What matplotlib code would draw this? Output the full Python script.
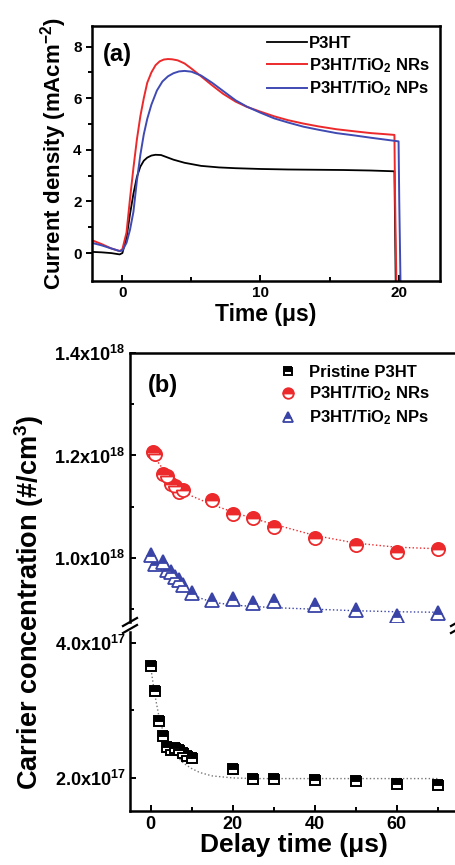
import matplotlib
matplotlib.use("Agg")
import matplotlib.pyplot as plt

plt.rcParams["font.family"] = ["Liberation Sans", "DejaVu Sans"]
plt.rcParams["font.weight"] = "bold"
plt.rcParams["axes.labelweight"] = "bold"
plt.rcParams["mathtext.fontset"] = "custom"
plt.rcParams["mathtext.rm"] = "Liberation Sans:bold"
plt.rcParams["mathtext.it"] = "Liberation Sans:bold"
plt.rcParams["mathtext.bf"] = "Liberation Sans:bold"

RED = "#ec2a2c"
BLUE = "#3f4ab3"
MBLUE = "#3a44a6"

# ── (a) transient photocurrent ───────────────────────────────────────────────
t_p3ht = [-2.3, -1.5, -0.8, -0.2, 0.0, 0.3, 0.55, 0.8, 1.05, 1.3, 1.55, 1.8, 2.1,
          2.4, 2.8, 3.2, 3.7, 4.5, 5.7, 7.0, 8.2, 10, 12, 14, 16, 18, 19.7, 19.8]
j_p3ht = [0.05, 0.03, 0.0, -0.05, 0.0, 0.6, 1.5, 2.3, 2.95, 3.35, 3.58, 3.7, 3.78,
          3.81, 3.8, 3.72, 3.62, 3.5, 3.38, 3.32, 3.29, 3.26, 3.24, 3.23, 3.22, 3.2,
          3.17, -1.5]

t_nrs = [-2.3, -1.5, -0.8, -0.2, 0.0, 0.3, 0.55, 0.8, 1.05, 1.3, 1.55, 1.8, 2.1,
         2.4, 2.7, 3.0, 3.3, 3.6, 4.0, 4.5, 5.0, 5.7, 6.5, 7.3, 8.2, 9.0, 10.0,
         11.0, 12.0, 13.1, 14.2, 15.5, 16.8, 18.0, 19.0, 19.7, 19.75, 19.85]
j_nrs = [0.52, 0.35, 0.18, 0.08, 0.15, 0.8, 2.1, 3.3, 4.4, 5.3, 6.0, 6.6, 7.0,
         7.28, 7.43, 7.5, 7.52, 7.51, 7.47, 7.35, 7.15, 6.85, 6.5, 6.17, 5.87,
         5.67, 5.48, 5.3, 5.15, 5.02, 4.91, 4.8, 4.72, 4.65, 4.61, 4.58, 2.0, -1.5]

t_nps = [-2.3, -1.5, -0.8, -0.2, 0.0, 0.3, 0.55, 0.8, 1.05, 1.3, 1.55, 1.8, 2.1,
         2.5, 2.9, 3.3, 3.7, 4.1, 4.5, 5.0, 5.7, 6.5, 7.3, 8.2, 9.0, 10.0, 11.0,
         12.0, 13.1, 14.2, 15.5, 16.8, 18.0, 19.0, 20.0, 20.05, 20.15]
j_nps = [0.41, 0.3, 0.18, 0.08, 0.1, 0.4, 0.9, 1.6, 2.8, 3.8, 4.6, 5.2, 5.75,
         6.3, 6.65, 6.85, 6.97, 7.04, 7.06, 7.03, 6.88, 6.6, 6.28, 5.92, 5.68,
         5.44, 5.22, 5.06, 4.9, 4.78, 4.65, 4.56, 4.47, 4.4, 4.33, 2.0, -1.5]

# ── (b) carrier concentration vs delay time ─────────────────────────────────
d_p3ht = [0, 1, 2, 3, 4, 5, 6, 7, 8, 9, 10, 20, 25, 30, 40, 50, 60, 70]
n_p3ht = [3.66e17, 3.28e17, 2.84e17, 2.62e17, 2.46e17, 2.41e17, 2.44e17, 2.41e17,
          2.37e17, 2.32e17, 2.29e17, 2.13e17, 1.98e17, 1.99e17, 1.97e17, 1.95e17,
          1.91e17, 1.89e17]

d_nrs = [0.5, 1, 3, 4, 5, 6, 7, 8, 15, 20, 25, 30, 40, 50, 60, 70]
n_nrs = [1.207e18, 1.202e18, 1.163e18, 1.160e18, 1.144e18, 1.140e18, 1.128e18,
         1.132e18, 1.113e18, 1.086e18, 1.077e18, 1.061e18, 1.039e18, 1.025e18,
         1.012e18, 1.018e18]

d_nps = [0, 1, 3, 4, 5, 6, 7, 8, 10, 15, 20, 25, 30, 40, 50, 60, 70]
n_nps = [1.005e18, 0.988e18, 0.992e18, 0.976e18, 0.973e18, 0.963e18, 0.957e18,
         0.947e18, 0.931e18, 0.918e18, 0.919e18, 0.913e18, 0.916e18, 0.908e18,
         0.898e18, 0.886e18, 0.893e18]

# decay fits (dotted)
fit_t_p3ht = [0, 1, 2, 3, 4, 5, 6, 8, 10, 12, 15, 20, 25, 70]
fit_n_p3ht = [3.66e17, 3.25e17, 2.93e17, 2.70e17, 2.55e17, 2.44e17, 2.35e17,
              2.22e17, 2.14e17, 2.08e17, 2.03e17, 2.00e17, 1.99e17, 1.99e17]
fit_t_nrs = [0.5, 2, 4, 6, 8, 10, 15, 20, 25, 30, 40, 50, 60, 70]
fit_n_nrs = [1.205e18, 1.185e18, 1.163e18, 1.145e18, 1.132e18, 1.121e18,
             1.104e18, 1.090e18, 1.077e18, 1.066e18, 1.044e18, 1.029e18,
             1.021e18, 1.018e18]
fit_t_nps = [0, 2, 4, 6, 8, 10, 12, 15, 20, 30, 40, 50, 60, 70]
fit_n_nps = [1.003e18, 0.988e18, 0.973e18, 0.958e18, 0.944e18, 0.932e18,
             0.922e18, 0.914e18, 0.908e18, 0.903e18, 0.900e18, 0.897e18,
             0.895e18, 0.894e18]

upper_ticks = [1.0e18, 1.2e18, 1.4e18]
upper_labels = ["1.0x10$^{18}$", "1.2x10$^{18}$", "1.4x10$^{18}$"]
lower_ticks = [2.0e17, 4.0e17]
lower_labels = ["2.0x10$^{17}$", "4.0x10$^{17}$"]

W, H = 455, 865
fig = plt.figure(figsize=(W / 100, H / 100), dpi=100)


def frac(left, top, right, bottom):
    return [left / W, 1 - bottom / H, (right - left) / W, (bottom - top) / H]


def style(ax, ydir):
    for s in ax.spines.values():
        s.set_linewidth(1.8)
    ax.tick_params(axis="x", which="both", direction="in", width=1.4)
    ax.tick_params(axis="y", which="both", direction=ydir, width=1.4)
    ax.tick_params(which="major", length=4)
    ax.tick_params(which="minor", length=3)


# panel (a)
axa = fig.add_axes(frac(92, 26, 440, 281.5))
axa.plot(t_p3ht, j_p3ht, color="black", lw=1.3, label="P3HT")
axa.plot(t_nrs, j_nrs, color=RED, lw=1.4, label="P3HT/TiO$_2$ NRs")
axa.plot(t_nps, j_nps, color=BLUE, lw=1.4, label="P3HT/TiO$_2$ NPs")
axa.set_xlim(-2.2, 23.0)
axa.set_ylim(-1.1, 8.8)
axa.set_xticks([0, 10, 20])
axa.set_xticks([5, 15], minor=True)
axa.set_yticks([0, 2, 4, 6, 8])
axa.set_yticks([1, 3, 5, 7], minor=True)
style(axa, "out")
axa.tick_params(labelsize=11)
axa.set_xlabel("Time (μs)", fontsize=16.5, labelpad=2)
axa.set_ylabel("Current density (mAcm$^{-2}$)", fontsize=16, labelpad=3)
axa.text(0.03, 0.89, "(a)", transform=axa.transAxes, fontsize=17,
         va="center", ha="left")
axa.legend(loc="upper right", bbox_to_anchor=(1.0, 1.0), frameon=False,
           fontsize=12, handlelength=2.4, handletextpad=0.1,
           labelspacing=0.3, borderaxespad=0.2)

# panel (b), broken y axis
axu = fig.add_axes(frac(130, 353, 458, 622))
axl = fig.add_axes(frac(130, 632, 458, 811))

axu.plot(fit_t_nrs, fit_n_nrs, ls=":", color=RED, lw=1.0)
axu.plot(fit_t_nps, fit_n_nps, ls=":", color=MBLUE, lw=1.0)
axl.plot(fit_t_p3ht, fit_n_p3ht, ls=":", color="#777777", lw=1.0)

hs = axl.plot(d_p3ht, n_p3ht, ls="none", marker="s", ms=7.5, color="black",
              fillstyle="top", markerfacecoloralt="white", mew=1.4,
              label="Pristine P3HT")
hr = axu.plot(d_nrs, n_nrs, ls="none", marker="o", ms=9.5, color=RED,
              fillstyle="top", markerfacecoloralt="white", mew=1.3,
              label="P3HT/TiO$_2$ NRs")
hb = axu.plot(d_nps, n_nps, ls="none", marker="^", ms=9.5, color=MBLUE,
              fillstyle="top", markerfacecoloralt="white", mew=1.3,
              label="P3HT/TiO$_2$ NPs")

for ax in (axu, axl):
    ax.set_xlim(-5, 75)
    style(ax, "in")
    ax.tick_params(labelsize=13)

axu.set_ylim(0.875e18, 1.4e18)
axu.set_yticks(upper_ticks, upper_labels)
axu.set_yticks([0.9e18, 1.1e18, 1.3e18], minor=True)
axu.spines["bottom"].set_visible(False)
axu.tick_params(axis="x", which="both", bottom=False, labelbottom=False)

axl.set_ylim(1.51e17, 4.16e17)
axl.set_yticks(lower_ticks, lower_labels)
axl.set_yticks([3.0e17], minor=True)
axl.spines["top"].set_visible(False)
axl.set_xticks([0, 20, 40, 60])
axl.set_xticks([10, 30, 50, 70], minor=True)
axl.set_xlabel("Delay time (μs)", fontsize=19, labelpad=0)

fig.text(12 / W, 1 - 602 / H, "Carrier concentration (#/cm$^3$)", rotation=90,
         fontsize=19.5, ha="left", va="center")

axu.text(0.055, 0.88, "(b)", transform=axu.transAxes, fontsize=17,
         va="center", ha="left")
axu.legend(handles=hs + hr + hb, loc="upper left", bbox_to_anchor=(0.42, 1.0),
           frameon=False, fontsize=12, markerscale=0.8, handlelength=1.0,
           handletextpad=0.8, labelspacing=0.3, borderaxespad=0.3)

# break marks on both spines
kw = dict(color="black", lw=1.6, clip_on=False)
for xs in (0.0, 1.0):
    for dy in (-5, 2):
        y0 = 1 - (627 + dy) / H
        fig.lines.append(plt.Line2D(
            [130 / W + (xs * 328 / W) - 7 / W, 130 / W + (xs * 328 / W) + 7 / W],
            [y0 - 4 / H, y0 + 4 / H], transform=fig.transFigure, **kw))

fig.savefig("out.png", dpi=100)
